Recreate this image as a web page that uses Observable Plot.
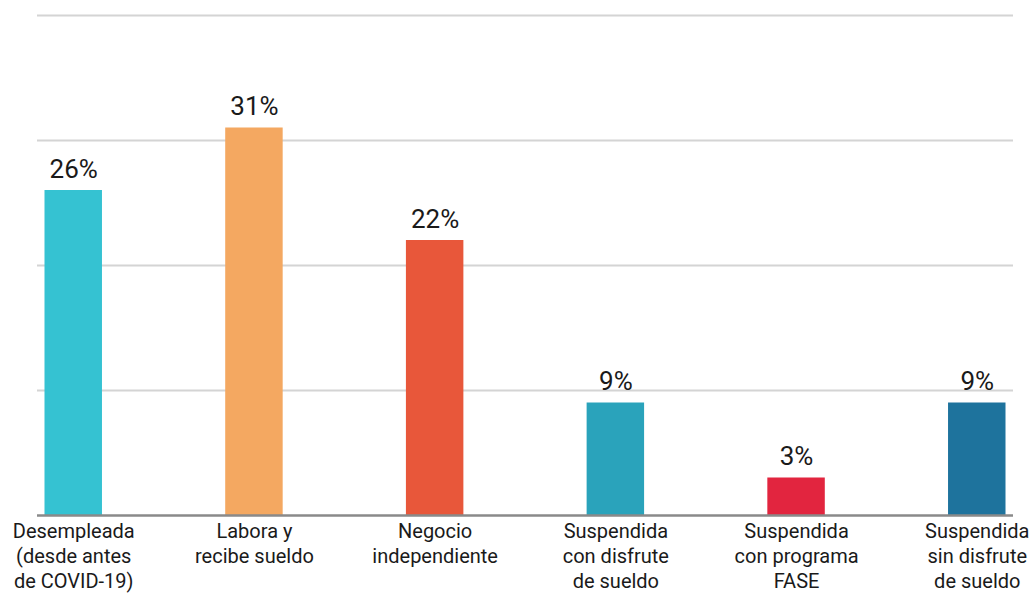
<!DOCTYPE html>
<html>
<head>
<meta charset="utf-8">
<script src="https://cdn.jsdelivr.net/npm/d3@7"></script>
<script src="https://cdn.jsdelivr.net/npm/@observablehq/plot@0.6"></script>
<style>
  html, body { margin: 0; padding: 0; background: #fff; }
  #chart svg { display: block; }
</style>
</head>
<body>
<div id="chart"></div>
<script>
const categories = ["desempleada", "labora", "negocio", "susp_disfrute", "susp_fase", "susp_sin"];
const labels = [
  "Desempleada\n(desde antes\nde COVID-19)",
  "Labora y\nrecibe sueldo",
  "Negocio\nindependiente",
  "Suspendida\ncon disfrute\nde sueldo",
  "Suspendida\ncon programa\nFASE",
  "Suspendida\nsin disfrute\nde sueldo"
];
const values = [26, 31, 22, 9, 3, 9];
const yTicks = [0, 10, 20, 30, 40];
const barColors = ["#35c2d2", "#f4a861", "#e8573a", "#2aa3bb", "#e2253f", "#1e739d"];

const data = categories.map((c, i) => ({cat: c, value: values[i], label: labels[i]}));
const labelOf = new Map(categories.map((c, i) => [c, labels[i]]));

const FONT = "Roboto, 'Noto Sans', sans-serif";

const chart = Plot.plot({
  width: 1032,
  height: 594,
  marginLeft: 37,
  marginRight: 19,
  marginTop: 15,
  marginBottom: 79,
  style: {fontFamily: FONT, color: "#1a1a1a", background: "#fff"},
  x: {domain: categories, paddingInner: 0.682, paddingOuter: 0.0415, align: 0.5, round: false, label: null},
  y: {domain: [0, 40], label: null, axis: null},
  color: {domain: categories, range: barColors},
  marks: [
    Plot.ruleY(yTicks.filter(d => d > 0), {stroke: "#d4d4d4", strokeWidth: 2}),
    Plot.barY(data, {x: "cat", y: "value", fill: "cat"}),
    Plot.ruleY([0], {stroke: "#8a8a8a", strokeWidth: 2.5}),
    Plot.text(data, {
      x: "cat", y: "value", text: d => d.value + "%",
      dy: -13, lineAnchor: "bottom", fontSize: 26, fontWeight: 400, fill: "#1a1a1a", fontFamily: FONT
    }),
    Plot.axisX({
      tickSize: 0, tickPadding: 5, fontSize: 20, fontWeight: 400, lineHeight: 1.25,
      tickFormat: d => labelOf.get(d), fill: "#1a1a1a", fontFamily: FONT
    })
  ]
});
document.getElementById("chart").appendChild(chart);
</script>
</body>
</html>
